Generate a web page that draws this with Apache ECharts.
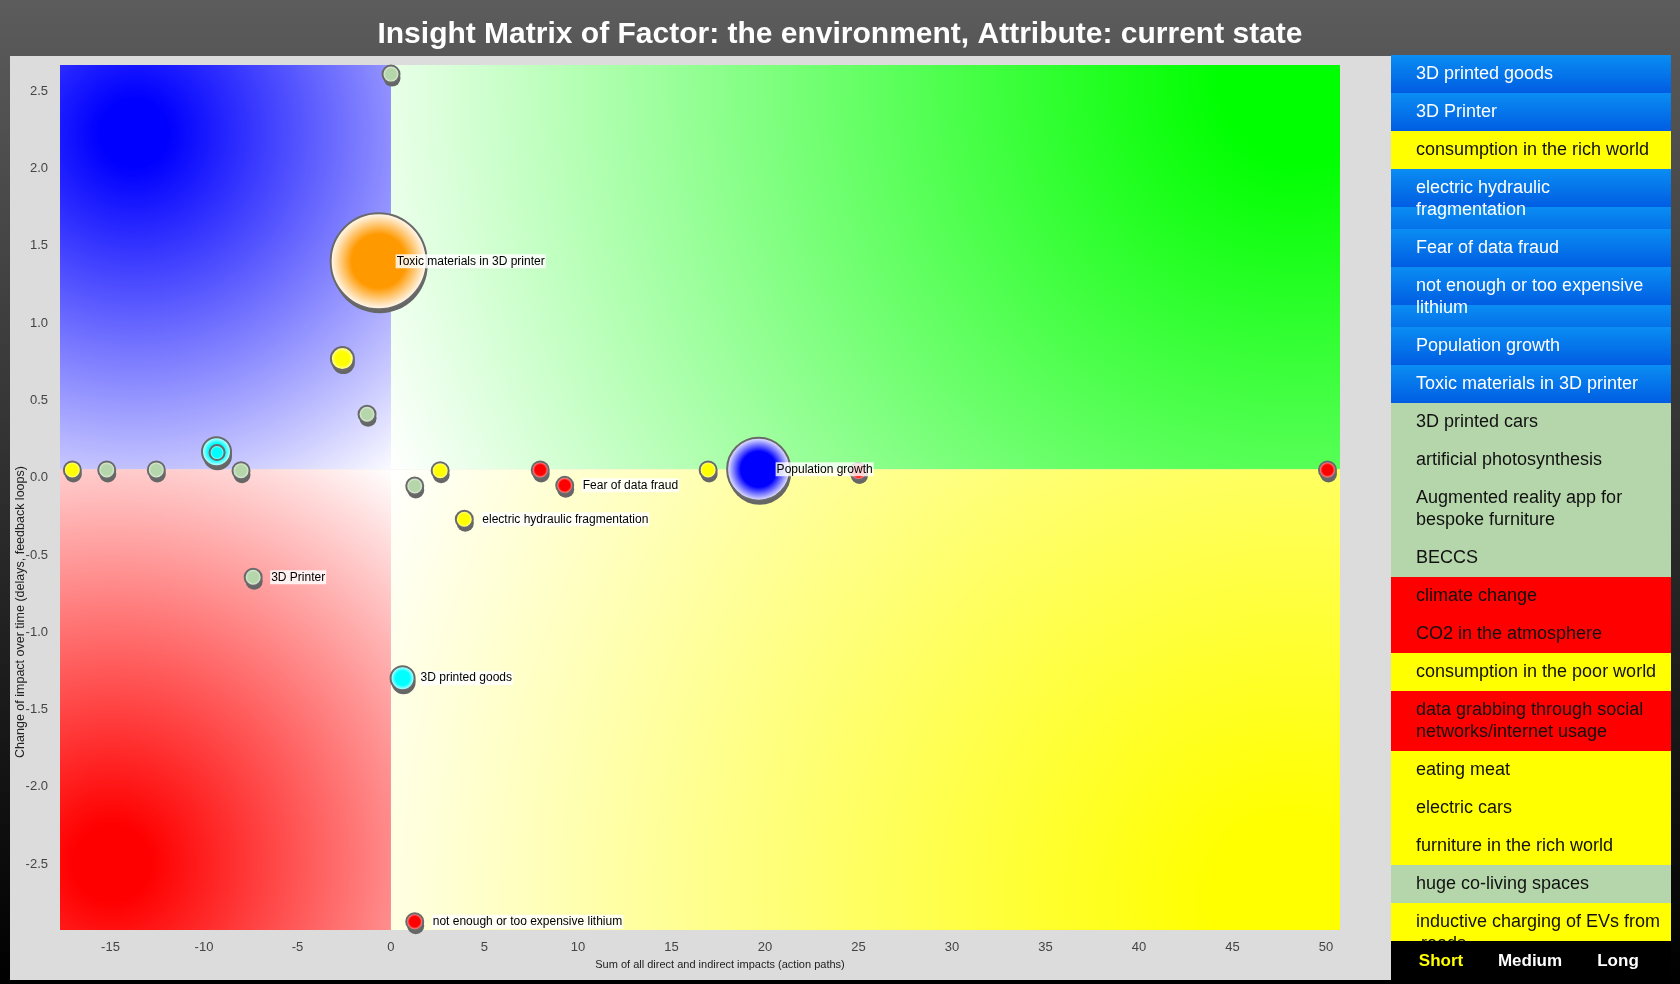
<!DOCTYPE html>
<html>
<head>
<meta charset="utf-8">
<title>Insight Matrix</title>
<script src="https://cdn.jsdelivr.net/npm/echarts@6/dist/echarts.min.js"></script>
<style>
    html, body { margin:0; padding:0; width:1680px; height:984px; overflow:hidden; background:#000; }
    #chart { width:1680px; height:984px; }
</style>
</head>
<body>
<div id="chart"></div>
<script>
const titleText = 'Insight Matrix of Factor: the environment, Attribute: current state';
const xName = 'Sum of all direct and indirect impacts (action paths)';
const yName = 'Change of impact over time (delays, feedback loops)';

const xMin = -17.7, xMax = 50.75;
const yMin = -2.926, yMax = 2.669;
const splitX = 0, splitY = 0.055;

// points
const pointX = [0.0, -0.66, -2.6, -1.28, -9.33, -9.3, -17.04, -15.2, -12.55, -8.02, 1.27, 2.63, 7.98, 9.29, 16.96, 19.66, 25.0, 50.08, 3.92, -7.37, 0.62, 1.27];
const pointY = [2.61, 1.40, 0.77, 0.41, 0.168, 0.162, 0.05, 0.05, 0.05, 0.045, -0.054, 0.045, 0.05, -0.05, 0.05, 0.054, 0.04, 0.05, -0.269, -0.644, -1.297, -2.872];
const bubbleSize = [17, 96, 23, 17, 29, 15, 17, 17, 17, 17, 17, 17, 17, 17, 17, 63, 17, 17, 17, 17, 24, 17];
const pointGroup = ['green','orange','yellow','green','cyan','cyan','yellow','green','green','green','green','yellow','red','red','yellow','blue','red','red','yellow','green','cyan','red'];
const pointLabel = ['', 'Toxic materials in 3D printer', '', '', '', '', '', '', '', '', '', '', '', 'Fear of data fraud', '', 'Population growth', '', '', 'electric hydraulic fragmentation', '3D Printer', '3D printed goods', 'not enough or too expensive lithium'];

// side list
const listNames = ['3D printed goods', '3D Printer', 'consumption in the rich world', 'electric hydraulic fragmentation', 'Fear of data fraud', 'not enough or too expensive lithium', 'Population growth', 'Toxic materials in 3D printer', '3D printed cars', 'artificial photosynthesis', 'Augmented reality app for bespoke furniture', 'BECCS', 'climate change', 'CO2 in the atmosphere', 'consumption in the poor world', 'data grabbing through social networks/internet usage', 'eating meat', 'electric cars', 'furniture in the rich world', 'huge co-living spaces', 'inductive charging of EVs from roads'];
const listGroup = ['selected','selected','yellow','selected','selected','selected','selected','selected','green','green','green','green','red','red','yellow','red','yellow','yellow','yellow','green','yellow'];
const horizons = ['Short', 'Medium', 'Long'];
const activeHorizon = 'Short';

const groupColor = { green:'#b5d6aa', yellow:'#ffff00', red:'#ff0000', cyan:'#00ffff', blue:'#0000ff', orange:'#ff9900' };
const fontFamily = '"Liberation Sans", Arial, Helvetica, sans-serif';

function quadrantFill(cx, cy, r, color){
    return new echarts.graphic.RadialGradient(cx, cy, r, [
        { offset:0, color:color },
        { offset:0.08, color:color },
        { offset:1, color:'#ffffff' }
    ]);
}

function bubbleStyle(color){
    return {
        color: new echarts.graphic.RadialGradient(0.5, 0.5, 0.5, [
            { offset:0, color:color },
            { offset:0.55, color:color },
            { offset:1, color:'#ffffff' }
        ]),
        borderColor:'#6a6a6a',
        borderWidth:2,
        opacity:1
    };
}

const scatterData = pointX.map((x, i) => {
    const item = {
        value:[x, pointY[i]],
        symbolSize:bubbleSize[i],
        itemStyle:bubbleStyle(groupColor[pointGroup[i]])
    };
    if ( pointLabel[i] ){
        item.label = {
            show:true,
            formatter:pointLabel[i],
            position:'inside',
            align:'left',
            offset:[17, 0],
            color:'#000',
            fontSize:12,
            fontFamily:fontFamily,
            backgroundColor:'rgba(255,255,255,0.82)',
            padding:[1, 1]
        };
    }
    return item;
});
// hard drop shadow under every bubble
const shadowData = pointX.map((x, i) => ({
    value:[x, pointY[i]],
    symbolSize:bubbleSize[i]
}));

// side list as graphic elements
const listLeft = 1391, listWidth = 280, listTop = 55, rowH = 38, extraLineH = 22, barTop = 941;
const wrapWidth = 246;
const listFont = '18px ' + fontFamily;
const measureCtx = document.createElement('canvas').getContext('2d');
measureCtx.font = listFont;
function countLines(text, maxWidth){
    let lines = 1, line = '';
    text.split(' ').forEach(w => {
        const test = line ? line + ' ' + w : w;
        if ( measureCtx.measureText(test).width > maxWidth && line ){
            lines++;
            line = w;
        } else {
            line = test;
        }
    });
    return lines;
}

const graphics = [{
    type:'rect', z:-10, silent:true,
    shape:{ x:10, y:56, width:1381, height:924 },
    style:{ fill:'#dcdcdc' }
}];
let rowY = listTop;
listNames.forEach((name, i) => {
    const lines = countLines(name, wrapWidth);
    const h = rowH + extraLineH * (lines - 1);
    const g = listGroup[i];
    if ( g === 'selected' ){
        for ( let t = 0; t < h; t += rowH ){
            graphics.push({
                type:'rect', z:10, silent:true,
                shape:{ x:listLeft, y:rowY + t, width:listWidth, height:Math.min(rowH, h - t) },
                style:{ fill:new echarts.graphic.LinearGradient(0, rowY + t, 0, rowY + t + rowH, [
                    { offset:0, color:'#0a8df3' },
                    { offset:1, color:'#005de2' }
                ], true) }
            });
        }
    } else {
        graphics.push({
            type:'rect', z:10, silent:true,
            shape:{ x:listLeft, y:rowY, width:listWidth, height:h },
            style:{ fill:groupColor[g] }
        });
    }
    graphics.push({
        type:'text', z:11, silent:true,
        style:{
            x:1416, y:rowY + h / 2,
            text:name,
            font:listFont,
            fill: g === 'selected' ? '#fff' : '#111',
            width:wrapWidth, overflow:'break',
            lineHeight:22,
            verticalAlign:'middle'
        }
    });
    rowY += h;
});
graphics.push({
    type:'rect', z:20, silent:true,
    shape:{ x:listLeft, y:barTop, width:listWidth, height:984 - barTop },
    style:{ fill:'#000' }
});
const horizonX = [1441, 1530, 1618];
horizons.forEach((h, i) => {
    graphics.push({
        type:'text', z:21, silent:true,
        style:{
            x:horizonX[i], y:961,
            text:h,
            font:'bold 17px ' + fontFamily,
            fill: h === activeHorizon ? '#ffff00' : '#fff',
            align:'center', verticalAlign:'middle'
        }
    });
});

const chart = echarts.init(document.getElementById('chart'));
const option = {
    animation:false,
    backgroundColor:new echarts.graphic.LinearGradient(0, 0, 0, 1, [
        { offset:0, color:'#5c5c5c' },
        { offset:1, color:'#000000' }
    ]),
    title:{
        text:titleText,
        left:'center',
        top:20,
        padding:0,
        textStyle:{ color:'#fff', fontSize:30, fontWeight:'bold', fontFamily:fontFamily }
    },
    grid:{ left:60, right:340, top:65, bottom:54 },
    xAxis:{
        type:'value',
        min:xMin, max:xMax,
        splitNumber:14,
        axisLine:{ show:false },
        axisTick:{ show:false },
        splitLine:{ show:false },
        axisLabel:{ color:'#444', fontSize:13, fontFamily:fontFamily, margin:11, showMinLabel:false, showMaxLabel:false },
        name:xName,
        nameLocation:'middle',
        nameGap:29,
        nameMoveOverlap:false,
        nameTextStyle:{ color:'#222', fontSize:11, fontFamily:fontFamily, padding:[0, 0, 0, 40] }
    },
    yAxis:{
        type:'value',
        min:yMin, max:yMax,
        splitNumber:11,
        axisLine:{ show:false },
        axisTick:{ show:false },
        splitLine:{ show:false },
        axisLabel:{ color:'#444', fontSize:13, fontFamily:fontFamily, margin:12, showMinLabel:false, showMaxLabel:false,
            formatter:v => v.toFixed(1) },
        name:yName,
        nameLocation:'middle',
        nameGap:33,
        nameMoveOverlap:false,
        nameTextStyle:{ color:'#222', fontSize:12.5, fontFamily:fontFamily, padding:[0, 229, 0, 0] }
    },
    graphic:graphics,
    series:[{
        type:'scatter',
        z:1,
        silent:true,
        data:[],
        markArea:{
            silent:true,
            label:{ show:false },
            data:[
                [{ xAxis:xMin, yAxis:splitY, itemStyle:{ opacity:1, color:quadrantFill(0.224, 0.168, 1.3, '#0000ff') } }, { xAxis:splitX, yAxis:yMax }],
                [{ xAxis:splitX, yAxis:splitY, itemStyle:{ opacity:1, color:quadrantFill(0.958, 0.037, 2.45, '#00ff00') } }, { xAxis:xMax, yAxis:yMax }],
                [{ xAxis:xMin, yAxis:yMin, itemStyle:{ opacity:1, color:quadrantFill(0.157, 0.855, 1.46, '#ff0000') } }, { xAxis:splitX, yAxis:splitY }],
                [{ xAxis:splitX, yAxis:yMin, itemStyle:{ opacity:1, color:quadrantFill(0.948, 0.935, 2.17, '#ffff00') } }, { xAxis:xMax, yAxis:splitY }]
            ]
        }
    }, {
        type:'scatter',
        z:2,
        silent:true,
        symbol:'circle',
        symbolOffset:[1, 4],
        itemStyle:{ color:'#666', opacity:1 },
        data:shadowData
    }, {
        type:'scatter',
        z:3,
        silent:true,
        symbol:'circle',
        itemStyle:{ opacity:1 },
        data:scatterData
    }]
};
chart.setOption(option);
</script>
</body>
</html>
